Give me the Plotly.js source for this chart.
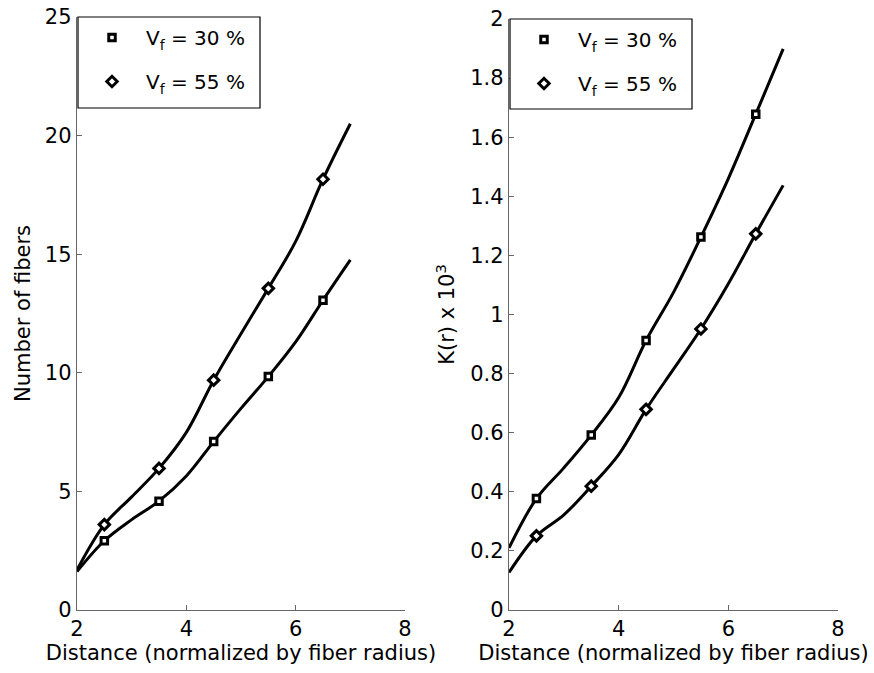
<!DOCTYPE html>
<html>
<head>
<meta charset="utf-8">
<script src="https://cdn.plot.ly/plotly-3.0.1.min.js"></script>
<style>html,body{margin:0;padding:0;background:#fff;}#chart{width:874px;height:673px;}</style>
</head>
<body>
<div id="chart"></div>
<script>
// Curve samples (distance normalized by fiber radius)
var xLine = [2, 2.5, 3, 3.5, 4, 4.5, 5, 5.5, 6, 6.5, 7];
var fibers30 = [1.62, 2.92, 3.81, 4.59, 5.65, 7.10, 8.50, 9.84, 11.30, 13.06, 14.76];
var fibers55 = [1.69, 3.60, 4.77, 5.97, 7.49, 9.69, 11.65, 13.56, 15.54, 18.16, 20.50];
var k30 = [0.210, 0.377, 0.481, 0.592, 0.719, 0.912, 1.075, 1.262, 1.460, 1.678, 1.899];
var k55 = [0.127, 0.251, 0.322, 0.419, 0.526, 0.679, 0.815, 0.951, 1.104, 1.273, 1.437];

// Marker samples
var xMark = [2.5, 3.5, 4.5, 5.5, 6.5];
var fibers30Mark = [2.92, 4.59, 7.10, 9.84, 13.06];
var fibers55Mark = [3.60, 5.97, 9.69, 13.56, 18.16];
var k30Mark = [0.377, 0.592, 0.912, 1.262, 1.678];
var k55Mark = [0.251, 0.419, 0.679, 0.951, 1.273];

var seriesNames = ['V<sub>f</sub> = 30 %', 'V<sub>f</sub> = 55 %'];

var FONT = 'DejaVu Sans, Liberation Sans, Arial, sans-serif';
var lineStyle = {color: '#000', width: 3, shape: 'spline', smoothing: 1};
var sqMarker = {symbol: 'square', size: 6.5, color: '#fff', line: {color: '#000', width: 3}};
var diMarker = {symbol: 'diamond', size: 8, color: '#fff', line: {color: '#000', width: 3}};

var traces = [
  {x: xLine, y: fibers30, mode: 'lines', line: lineStyle, showlegend: false, xaxis: 'x', yaxis: 'y', hoverinfo: 'skip'},
  {x: xLine, y: fibers55, mode: 'lines', line: lineStyle, showlegend: false, xaxis: 'x', yaxis: 'y', hoverinfo: 'skip'},
  {x: xMark, y: fibers30Mark, mode: 'markers', marker: sqMarker, name: seriesNames[0], legend: 'legend', legendgroup: 'a', xaxis: 'x', yaxis: 'y'},
  {x: xMark, y: fibers55Mark, mode: 'markers', marker: diMarker, name: seriesNames[1], legend: 'legend', legendgroup: 'b', xaxis: 'x', yaxis: 'y'},
  {x: xLine, y: k30, mode: 'lines', line: lineStyle, showlegend: false, xaxis: 'x2', yaxis: 'y2', hoverinfo: 'skip'},
  {x: xLine, y: k55, mode: 'lines', line: lineStyle, showlegend: false, xaxis: 'x2', yaxis: 'y2', hoverinfo: 'skip'},
  {x: xMark, y: k30Mark, mode: 'markers', marker: sqMarker, name: seriesNames[0], legend: 'legend2', legendgroup: 'c', xaxis: 'x2', yaxis: 'y2'},
  {x: xMark, y: k55Mark, mode: 'markers', marker: diMarker, name: seriesNames[1], legend: 'legend2', legendgroup: 'd', xaxis: 'x2', yaxis: 'y2'}
];

var axisCommon = {
  showline: true, linecolor: '#666', linewidth: 1.2,
  ticks: 'inside', ticklen: 5, tickwidth: 1, tickcolor: '#666',
  showgrid: false, zeroline: false, mirror: false,
  tickfont: {family: FONT, size: 21, color: '#000'}
};
function ax(extra) { return Object.assign({}, axisCommon, extra); }

var W = 874, H = 673;
var legendCommon = {xanchor: 'left', yanchor: 'top', bgcolor: 'rgba(0,0,0,0)', borderwidth: 0,
  font: {family: FONT, size: 20, color: '#000'}, tracegroupgap: 15, itemwidth: 58, entrywidth: 120};
function frame(x0, x1, yTop, yBot) {
  return {type: 'rect', xref: 'paper', yref: 'paper', x0: x0 / W, x1: x1 / W, y0: 1 - yBot / H, y1: 1 - yTop / H,
    line: {color: '#000', width: 1.2}, fillcolor: '#fff', layer: 'above'};
}
var layout = {
  width: W, height: H,
  margin: {l: 0, r: 0, t: 0, b: 0},
  paper_bgcolor: '#fff', plot_bgcolor: '#fff',
  font: {family: FONT, color: '#000'},
  xaxis: ax({domain: [77 / W, 405 / W], range: [2, 8], tickvals: [2, 4, 6, 8], anchor: 'y',
    title: {text: 'Distance (normalized by fiber radius)', font: {family: FONT, size: 21}, standoff: 3}}),
  yaxis: ax({domain: [63 / H, 1 - 17 / H], range: [0, 25], tickvals: [0, 5, 10, 15, 20, 25], anchor: 'x',
    title: {text: 'Number of fibers', font: {family: FONT, size: 21}, standoff: 8}}),
  xaxis2: ax({domain: [509 / W, 838 / W], range: [2, 8], tickvals: [2, 4, 6, 8], anchor: 'y2',
    title: {text: 'Distance (normalized by fiber radius)', font: {family: FONT, size: 21}, standoff: 3}}),
  yaxis2: ax({domain: [63 / H, 1 - 19 / H], range: [0, 2], tickvals: [0, 0.2, 0.4, 0.6, 0.8, 1, 1.2, 1.4, 1.6, 1.8, 2],
    ticktext: ['0', '0.2', '0.4', '0.6', '0.8', '1', '1.2', '1.4', '1.6', '1.8', '2'], anchor: 'x2',
    title: {text: 'K(r) x 10<sup>3</sup>', font: {family: FONT, size: 21}, standoff: 9}}),
  legend: Object.assign({x: 78 / W, y: 1 - 18 / H}, legendCommon),
  legend2: Object.assign({x: 510 / W, y: 1 - 20 / H}, legendCommon),
  shapes: [frame(78, 260, 17, 108), frame(510, 692, 19, 109)],
  showlegend: true
};

Plotly.newPlot('chart', traces, layout, {displayModeBar: false, staticPlot: true});
</script>
</body>
</html>
